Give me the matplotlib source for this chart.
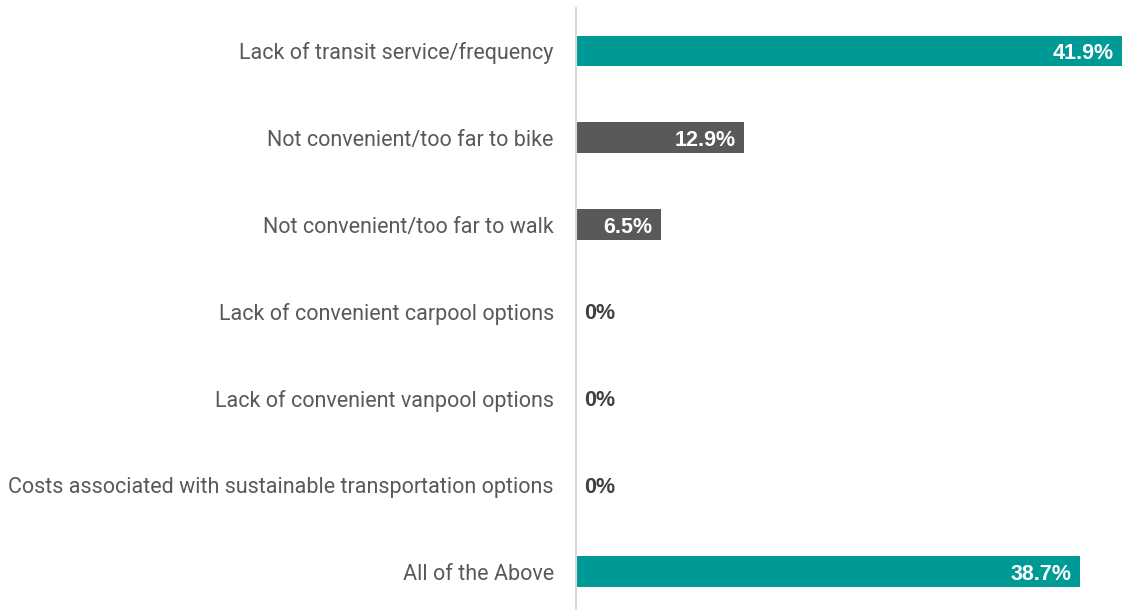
import matplotlib
matplotlib.use("Agg")
import matplotlib.pyplot as plt

categories = [
    "Lack of transit service/frequency",
    "Not convenient/too far to bike",
    "Not convenient/too far to walk",
    "Lack of convenient carpool options",
    "Lack of convenient vanpool options",
    "Costs associated with sustainable transportation options",
    "All of the Above",
]
values = [41.9, 12.9, 6.5, 0.0, 0.0, 0.0, 38.7]
labels = ["41.9%", "12.9%", "6.5%", "0%", "0%", "0%", "38.7%"]
colors = ["#009A96", "#595959", "#595959", "#595959", "#595959", "#595959", "#009A96"]

fig = plt.figure(figsize=(11.27, 6.10), dpi=100)
ax = fig.add_axes([576 / 1127, 0.0, 551 / 1127, 602 / 610])

y = list(range(len(categories)))
ax.barh(y, values, height=0.355, color=colors, zorder=2)

ax.set_xlim(0, 41.9 * 551 / 546)
ax.set_ylim(6.44, -0.495)

for yi, v, lab in zip(y, values, labels):
    if v > 0:
        ax.annotate(lab, xy=(v, yi), xytext=(-6, 0), textcoords="offset points",
                    ha="right", va="center_baseline", color="white", fontsize=15.5,
                    fontweight="bold", family="Liberation Sans")
    else:
        ax.annotate(lab, xy=(0, yi), xytext=(6, 0), textcoords="offset points",
                    ha="left", va="center_baseline", color="#404040", fontsize=15.5,
                    fontweight="bold", family="Liberation Sans")

ax.set_yticks(y)
ax.set_yticklabels(categories, family="Roboto", fontsize=15.5, color="#595959")
ax.tick_params(axis="y", length=0, pad=16)
ax.set_xticks([])

for s in ["top", "right", "bottom"]:
    ax.spines[s].set_visible(False)
ax.spines["left"].set_color("#D9D9D9")
ax.spines["left"].set_linewidth(1.5)

fig.savefig("out.png", dpi=100)
